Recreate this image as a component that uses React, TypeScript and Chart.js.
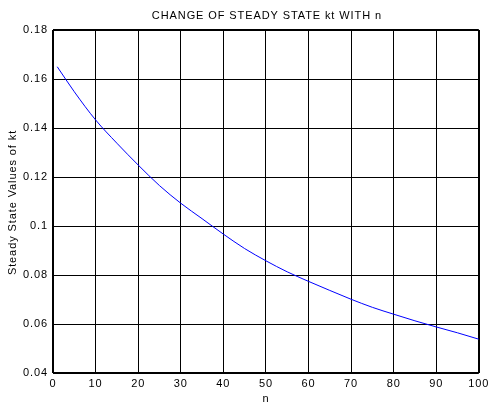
import { useEffect, useRef } from "react";
import { Chart, registerables } from "chart.js";

Chart.register(...registerables);

const TITLE = "CHANGE OF STEADY STATE kt WITH n";
const X_LABEL = "n";
const Y_LABEL = "Steady State Values of kt";

const nValues = [1, 5, 10, 15, 20, 25, 30, 35, 40, 45, 50, 55, 60, 65, 70, 75, 80, 85, 90, 95, 100];
const ktValues = [
  0.165, 0.1548, 0.1433, 0.1338, 0.1249, 0.1165, 0.1093, 0.103, 0.0967, 0.0908, 0.0858,
  0.0813, 0.0774, 0.0737, 0.0701, 0.0668, 0.064, 0.0613, 0.0588, 0.0564, 0.0538,
];

const X_MIN = 0;
const X_MAX = 100;
const X_STEP = 10;
const Y_MIN = 0.04;
const Y_MAX = 0.18;
const Y_STEP = 0.02;

const FONT = "'Liberation Sans', Arial, Helvetica, sans-serif";
const SPACING = "0.9px";

const textPlugin = {
  id: "matlabText",
  beforeDraw(chart: any) {
    (chart.ctx as any).letterSpacing = SPACING;
  },
  afterDraw(chart: any) {
    const ctx = chart.ctx;
    const a = chart.chartArea;
    ctx.save();
    (ctx as any).letterSpacing = SPACING;
    ctx.fillStyle = "#000";
    ctx.font = `11px ${FONT}`;
    ctx.textAlign = "center";
    ctx.textBaseline = "alphabetic";
    const cx = (a.left + a.right) / 2;
    ctx.fillText(TITLE, cx + 1, 18.5);
    ctx.fillText(X_LABEL, cx, 402);
    ctx.translate(13, (a.top + a.bottom) / 2 + 1);
    ctx.rotate(-Math.PI / 2);
    ctx.textBaseline = "middle";
    ctx.fillText(Y_LABEL, 0, 0);
    ctx.restore();
  },
};

export default function App() {
  const ref = useRef<HTMLCanvasElement | null>(null);

  useEffect(() => {
    document.body.style.margin = "0";
    const canvas = ref.current;
    if (!canvas) return;
    const edgeX = (c: any) =>
      c.tick && (Math.abs(c.tick.value - X_MIN) < 1e-9 || Math.abs(c.tick.value - X_MAX) < 1e-9) ? 2 : 1;
    const edgeY = (c: any) =>
      c.tick && (Math.abs(c.tick.value - Y_MIN) < 1e-9 || Math.abs(c.tick.value - Y_MAX) < 1e-9) ? 2 : 1;
    const chart = new Chart(canvas, {
      type: "line",
      data: {
        datasets: [
          {
            data: nValues.map((n, i) => ({ x: n, y: ktValues[i] })),
            borderColor: "#0000ff",
            borderWidth: 1,
            pointRadius: 0,
            fill: false,
            cubicInterpolationMode: "monotone",
          },
        ],
      },
      options: {
        responsive: false,
        animation: false,
        devicePixelRatio: 1,
        layout: { padding: { left: 0, right: 10, top: 30, bottom: 0 } },
        plugins: {
          legend: { display: false },
          tooltip: { enabled: false },
          title: { display: false },
        },
        scales: {
          x: {
            type: "linear",
            min: X_MIN,
            max: X_MAX,
            ticks: {
              stepSize: X_STEP,
              color: "#000",
              font: { family: FONT, size: 11 },
              padding: 4,
              maxRotation: 0,
              autoSkip: false,
            },
            grid: { color: "#000", lineWidth: edgeX, drawTicks: false },
            border: { display: false },
            afterFit: (s: any) => {
              s.height = 31;
            },
          },
          y: {
            type: "linear",
            min: Y_MIN,
            max: Y_MAX,
            ticks: {
              stepSize: Y_STEP,
              color: "#000",
              font: { family: FONT, size: 11 },
              padding: 5,
              callback: (v: any) => parseFloat(Number(v).toFixed(2)).toString(),
            },
            grid: { color: "#000", lineWidth: edgeY, drawTicks: false },
            border: { display: false },
            afterFit: (s: any) => {
              s.width = 53;
            },
          },
        },
      },
      plugins: [textPlugin],
    } as any);
    return () => chart.destroy();
  }, []);

  return (
    <div style={{ position: "absolute", left: 0, top: 0, width: 492, height: 404, background: "#fff" }}>
      <canvas ref={ref} width={492} height={404} style={{ display: "block" }} />
    </div>
  );
}
